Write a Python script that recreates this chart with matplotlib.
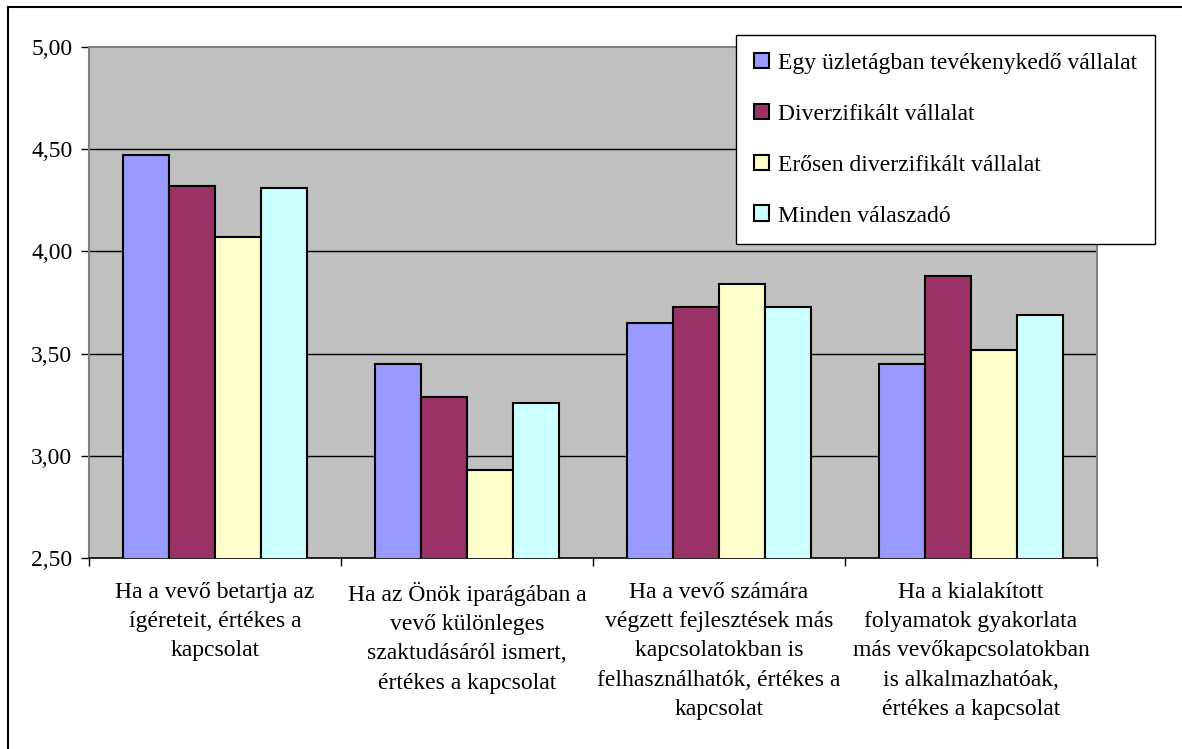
import matplotlib.pyplot as plt
from matplotlib.lines import Line2D
from matplotlib.ticker import FuncFormatter
import numpy as np

plt.rcParams['font.family'] = ['Liberation Serif', 'DejaVu Serif']

categories = [
    "Ha a vevő betartja az\nígéreteit, értékes a\nkapcsolat",
    "Ha az Önök iparágában a\nvevő különleges\nszaktudásáról ismert,\nértékes a kapcsolat",
    "Ha a vevő számára\nvégzett fejlesztések más\nkapcsolatokban is\nfelhasználhatók, értékes a\nkapcsolat",
    "Ha a kialakított\nfolyamatok gyakorlata\nmás vevőkapcsolatokban\nis alkalmazhatóak,\nértékes a kapcsolat",
]
series_names = [
    "Egy üzletágban tevékenykedő vállalat",
    "Diverzifikált vállalat",
    "Erősen diverzifikált vállalat",
    "Minden válaszadó",
]
egy = [4.47, 3.45, 3.65, 3.45]
div = [4.32, 3.29, 3.73, 3.88]
eros = [4.07, 2.93, 3.84, 3.52]
minden = [4.31, 3.26, 3.73, 3.69]
values = [egy, div, eros, minden]
colors = ['#9999FF', '#993366', '#FFFFCC', '#CCFFFF']

fig = plt.figure(figsize=(11.82, 7.49), dpi=100)
ax = fig.add_axes([89/1182, 191/749, 1008/1182, 511/749])
ax.set_facecolor('#C0C0C0')

x = np.arange(len(categories))
w = 0.1825
for i, (vals, name, c) in enumerate(zip(values, series_names, colors)):
    ax.bar(x + (i - 1.5) * w, vals, w, bottom=0, color=c, edgecolor='black',
           linewidth=1.5, label=name, zorder=3)

ax.set_ylim(2.5, 5.0)
ax.set_xlim(-0.5, 3.5)
ax.set_yticks(np.arange(2.5, 5.01, 0.5))
ax.yaxis.set_major_formatter(FuncFormatter(lambda v, p: f"{v:.2f}".replace('.', ',')))
for yv in [3.0, 3.5, 4.0, 4.5]:
    ax.axhline(yv, color='black', linewidth=1, zorder=1)

ax.set_xticks(x)
ax.set_xticklabels(categories, fontsize=17, linespacing=1.52)
ax.tick_params(axis='x', length=0, pad=17)
ax.set_xticks(np.arange(-0.5, 3.6, 1), minor=True)
ax.tick_params(axis='x', which='minor', length=6, width=1, direction='out')
ax.tick_params(axis='y', labelsize=17, length=6, width=1, direction='out', pad=6)

for s in ['top', 'right', 'left']:
    ax.spines[s].set_color('#808080')
    ax.spines[s].set_linewidth(1.5)
ax.spines['bottom'].set_color('black')
ax.spines['bottom'].set_linewidth(1.2)

leg = fig.legend(loc='upper left', bbox_to_anchor=(736/1182, 1 - 35/749),
                 fontsize=17, frameon=True, fancybox=False, edgecolor='black',
                 labelspacing=1.26, handlelength=0.65, handleheight=0.65,
                 handletextpad=0.4, borderpad=0.75, borderaxespad=0)
leg.get_frame().set_linewidth(1)
leg.get_frame().set_alpha(1)

fig.add_artist(Line2D([8/1182, 8/1182], [0, 1 - 7/749], color='black', linewidth=1.5))
fig.add_artist(Line2D([8/1182, 1], [1 - 7/749, 1 - 7/749], color='black', linewidth=1.5))

fig.savefig('out.png', dpi=100)
